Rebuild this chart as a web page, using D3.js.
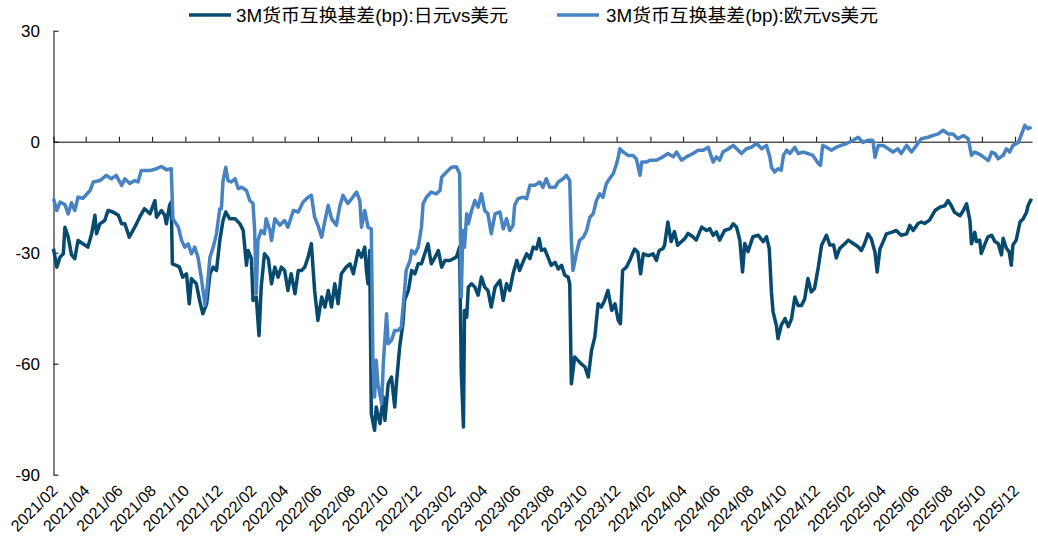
<!DOCTYPE html>
<html><head><meta charset="utf-8">
<script src="https://cdn.jsdelivr.net/npm/d3@7"></script>
<style>
html,body{margin:0;padding:0;background:#fff;}
svg{display:block;}
text{font-family:"Liberation Sans",Arial,"Noto Sans CJK SC",sans-serif;fill:#000;}
</style></head>
<body><svg id="chart" width="1038" height="545"></svg>
<script>
const seriesNames = ["3M货币互换基差(bp):日元vs美元", "3M货币互换基差(bp):欧元vs美元"];
const yTicks = [30, 0, -30, -60, -90];
const xTickLabels = ["2021/02","2021/04","2021/06","2021/08","2021/10","2021/12","2022/02","2022/04","2022/06","2022/08","2022/10","2022/12","2023/02","2023/04","2023/06","2023/08","2023/10","2023/12","2024/02","2024/04","2024/06","2024/08","2024/10","2024/12","2025/02","2025/04","2025/06","2025/08","2025/10","2025/12"];

const jpyDates = ["2021-02-01","2021-02-07","2021-02-13","2021-02-19","2021-02-22","2021-02-28","2021-03-06","2021-03-12","2021-03-18","2021-03-27","2021-04-05","2021-04-12","2021-04-18","2021-04-21","2021-04-27","2021-05-06","2021-05-12","2021-05-21","2021-05-31","2021-06-06","2021-06-12","2021-06-20","2021-06-30","2021-07-09","2021-07-18","2021-07-28","2021-08-06","2021-08-09","2021-08-18","2021-08-24","2021-08-27","2021-09-02","2021-09-05","2021-09-07","2021-09-14","2021-09-20","2021-09-26","2021-10-03","2021-10-08","2021-10-12","2021-10-21","2021-10-27","2021-11-02","2021-11-09","2021-11-15","2021-11-21","2021-11-27","2021-12-03","2021-12-09","2021-12-14","2021-12-21","2021-12-31","2022-01-09","2022-01-15","2022-01-21","2022-01-24","2022-01-30","2022-02-02","2022-02-08","2022-02-13","2022-02-17","2022-02-23","2022-03-02","2022-03-08","2022-03-14","2022-03-20","2022-03-26","2022-04-01","2022-04-07","2022-04-13","2022-04-20","2022-04-26","2022-05-02","2022-05-08","2022-05-14","2022-05-20","2022-05-26","2022-06-01","2022-06-08","2022-06-14","2022-06-20","2022-06-26","2022-07-02","2022-07-08","2022-07-14","2022-07-23","2022-07-30","2022-08-05","2022-08-14","2022-08-20","2022-08-26","2022-08-29","2022-09-01","2022-09-04","2022-09-07","2022-09-13","2022-09-16","2022-09-23","2022-09-29","2022-10-02","2022-10-08","2022-10-14","2022-10-20","2022-10-23","2022-10-29","2022-11-04","2022-11-07","2022-11-14","2022-11-20","2022-11-26","2022-12-02","2022-12-08","2022-12-14","2022-12-20","2022-12-26","2023-01-02","2023-01-08","2023-01-14","2023-01-20","2023-01-29","2023-02-10","2023-02-16","2023-02-19","2023-02-23","2023-02-25","2023-03-01","2023-03-04","2023-03-10","2023-03-16","2023-03-22","2023-03-28","2023-04-03","2023-04-09","2023-04-15","2023-04-22","2023-05-01","2023-05-07","2023-05-13","2023-05-19","2023-05-25","2023-06-01","2023-06-06","2023-06-12","2023-06-19","2023-06-25","2023-07-01","2023-07-07","2023-07-12","2023-07-16","2023-07-22","2023-07-28","2023-08-03","2023-08-10","2023-08-16","2023-08-22","2023-08-28","2023-09-03","2023-09-06","2023-09-09","2023-09-15","2023-09-21","2023-09-27","2023-10-04","2023-10-10","2023-10-16","2023-10-22","2023-10-28","2023-11-03","2023-11-09","2023-11-15","2023-11-22","2023-11-28","2023-12-04","2023-12-08","2023-12-12","2023-12-19","2023-12-25","2024-01-03","2024-01-09","2024-01-14","2024-01-19","2024-01-28","2024-02-06","2024-02-12","2024-02-17","2024-02-24","2024-02-27","2024-03-04","2024-03-10","2024-03-16","2024-03-22","2024-03-29","2024-04-04","2024-04-10","2024-04-19","2024-04-25","2024-05-05","2024-05-14","2024-05-20","2024-05-26","2024-06-01","2024-06-07","2024-06-16","2024-06-26","2024-07-02","2024-07-08","2024-07-14","2024-07-19","2024-07-23","2024-07-29","2024-08-07","2024-08-17","2024-08-26","2024-09-01","2024-09-06","2024-09-10","2024-09-13","2024-09-19","2024-09-22","2024-09-28","2024-10-05","2024-10-11","2024-10-17","2024-10-23","2024-10-29","2024-11-04","2024-11-10","2024-11-16","2024-11-22","2024-11-28","2024-12-05","2024-12-11","2024-12-20","2024-12-26","2025-01-02","2025-01-07","2025-01-13","2025-01-23","2025-01-29","2025-02-07","2025-02-16","2025-02-22","2025-02-28","2025-03-06","2025-03-12","2025-03-19","2025-03-23","2025-03-28","2025-04-03","2025-04-09","2025-04-18","2025-04-27","2025-05-06","2025-05-16","2025-05-22","2025-05-28","2025-06-06","2025-06-12","2025-06-18","2025-06-27","2025-07-07","2025-07-16","2025-07-25","2025-07-31","2025-08-06","2025-08-12","2025-08-22","2025-08-28","2025-09-03","2025-09-09","2025-09-12","2025-09-18","2025-09-21","2025-09-27","2025-09-30","2025-10-06","2025-10-12","2025-10-19","2025-10-25","2025-10-31","2025-11-06","2025-11-09","2025-11-15","2025-11-20","2025-11-24","2025-11-27","2025-12-03","2025-12-10","2025-12-16","2025-12-22","2025-12-25","2025-12-31"];
const jpyValues = [-28.9,-33.9,-31.2,-30.3,-23.1,-25.8,-30.6,-31.6,-26.7,-27.6,-28.5,-24.9,-19.9,-24.9,-22.2,-21.3,-18.6,-19.0,-19.9,-22.2,-22.2,-25.8,-23.1,-20.4,-18.1,-19.5,-15.9,-20.4,-18.6,-19.9,-22.2,-17.2,-16.3,-33.0,-33.4,-33.9,-36.6,-35.7,-43.8,-37.0,-38.4,-42.9,-46.5,-43.8,-35.7,-33.9,-34.8,-26.7,-21.3,-19.0,-20.8,-20.8,-22.2,-24.0,-33.4,-29.4,-31.6,-42.9,-42.0,-52.4,-39.3,-30.3,-31.6,-38.4,-33.9,-36.6,-33.9,-34.8,-40.2,-35.7,-41.1,-34.8,-34.8,-33.9,-31.2,-27.6,-40.2,-48.3,-42.0,-44.7,-40.2,-44.7,-38.4,-43.8,-35.7,-33.9,-33.0,-35.7,-29.4,-31.2,-28.5,-34.8,-38.4,-29.4,-73.5,-78.0,-71.7,-76.2,-69.0,-75.3,-65.4,-63.6,-71.7,-65.4,-55.5,-49.2,-42.9,-40.2,-34.8,-35.7,-33.0,-33.0,-30.3,-27.6,-33.0,-31.2,-29.4,-33.9,-32.1,-32.1,-31.2,-28.5,-61.8,-77.1,-45.6,-47.4,-39.3,-38.4,-39.3,-41.5,-36.6,-39.3,-40.2,-44.7,-39.3,-37.5,-42.9,-38.4,-40.2,-35.7,-32.1,-34.8,-32.6,-30.3,-31.6,-28.5,-29.0,-26.2,-29.4,-29.0,-31.2,-33.4,-32.6,-34.4,-33.4,-36.1,-36.6,-38.4,-65.4,-58.2,-59.1,-60.0,-60.9,-63.6,-56.4,-52.8,-43.8,-44.7,-42.9,-40.2,-45.6,-43.8,-48.3,-49.2,-34.8,-33.9,-32.1,-29.0,-29.9,-35.7,-30.3,-30.8,-30.3,-32.1,-29.4,-28.9,-28.0,-21.7,-27.0,-24.3,-28.0,-27.0,-26.2,-24.8,-25.7,-26.6,-23.1,-24.0,-23.5,-25.3,-24.4,-26.6,-24.0,-23.5,-22.2,-23.1,-26.6,-35.2,-27.5,-29.7,-25.7,-25.3,-27.0,-25.7,-28.9,-40.6,-46.0,-49.6,-53.2,-49.6,-47.8,-50.0,-47.8,-42.0,-44.3,-44.3,-42.5,-37.0,-40.6,-39.7,-33.9,-28.0,-25.3,-27.9,-27.9,-31.4,-28.9,-27.5,-26.6,-27.5,-28.4,-29.4,-27.5,-24.9,-26.2,-29.9,-35.2,-29.0,-27.0,-24.9,-24.5,-24.0,-25.3,-24.9,-22.6,-24.0,-22.1,-21.7,-22.1,-21.2,-18.6,-17.7,-17.3,-15.9,-17.3,-19.1,-20.0,-18.6,-16.8,-21.2,-27.6,-24.5,-27.0,-26.6,-30.2,-27.9,-25.7,-25.3,-27.0,-27.5,-30.6,-26.1,-28.8,-29.7,-33.4,-27.9,-26.6,-21.7,-20.8,-19.0,-17.2,-15.4];

const eurDates = ["2021-02-01","2021-02-07","2021-02-13","2021-02-22","2021-02-28","2021-03-06","2021-03-12","2021-03-18","2021-03-27","2021-04-09","2021-04-15","2021-04-27","2021-05-09","2021-05-18","2021-05-27","2021-06-06","2021-06-12","2021-06-21","2021-06-30","2021-07-06","2021-07-12","2021-07-28","2021-08-09","2021-08-18","2021-08-27","2021-09-05","2021-09-08","2021-09-18","2021-09-24","2021-09-30","2021-10-06","2021-10-12","2021-10-18","2021-10-24","2021-10-30","2021-11-06","2021-11-10","2021-11-15","2021-11-21","2021-11-27","2021-12-03","2021-12-06","2021-12-09","2021-12-14","2021-12-18","2021-12-24","2021-12-31","2022-01-06","2022-01-12","2022-01-21","2022-01-27","2022-02-02","2022-02-05","2022-02-08","2022-02-11","2022-02-17","2022-02-23","2022-02-26","2022-03-05","2022-03-08","2022-03-14","2022-03-23","2022-04-01","2022-04-07","2022-04-17","2022-04-26","2022-05-05","2022-05-14","2022-05-20","2022-05-26","2022-06-01","2022-06-08","2022-06-14","2022-06-20","2022-06-26","2022-07-05","2022-07-11","2022-07-17","2022-07-26","2022-08-02","2022-08-11","2022-08-17","2022-08-20","2022-08-26","2022-09-01","2022-09-07","2022-09-10","2022-09-13","2022-09-16","2022-09-19","2022-09-26","2022-09-29","2022-10-05","2022-10-08","2022-10-14","2022-10-20","2022-10-26","2022-11-01","2022-11-07","2022-11-10","2022-11-17","2022-11-20","2022-11-26","2022-12-02","2022-12-08","2022-12-11","2022-12-17","2022-12-26","2023-01-04","2023-01-11","2023-01-14","2023-01-23","2023-02-01","2023-02-10","2023-02-16","2023-02-19","2023-02-22","2023-02-25","2023-03-01","2023-03-04","2023-03-10","2023-03-16","2023-03-22","2023-03-28","2023-04-03","2023-04-09","2023-04-15","2023-04-22","2023-05-01","2023-05-07","2023-05-13","2023-05-19","2023-05-25","2023-05-28","2023-06-03","2023-06-12","2023-06-19","2023-06-25","2023-07-04","2023-07-13","2023-07-19","2023-07-25","2023-07-31","2023-08-10","2023-08-16","2023-08-25","2023-08-31","2023-09-06","2023-09-09","2023-09-12","2023-09-18","2023-09-24","2023-10-01","2023-10-07","2023-10-13","2023-10-19","2023-10-25","2023-10-31","2023-11-06","2023-11-12","2023-11-18","2023-11-25","2023-12-01","2023-12-04","2023-12-07","2023-12-13","2023-12-22","2023-12-31","2024-01-06","2024-01-13","2024-01-16","2024-01-25","2024-01-31","2024-02-12","2024-02-24","2024-03-04","2024-03-14","2024-03-20","2024-03-29","2024-04-07","2024-04-19","2024-04-29","2024-05-08","2024-05-17","2024-05-26","2024-06-01","2024-06-07","2024-06-13","2024-06-23","2024-07-02","2024-07-11","2024-07-17","2024-07-26","2024-08-04","2024-08-14","2024-08-23","2024-09-01","2024-09-07","2024-09-10","2024-09-16","2024-09-22","2024-09-28","2024-10-02","2024-10-08","2024-10-14","2024-10-23","2024-10-29","2024-11-07","2024-11-16","2024-11-25","2024-12-05","2024-12-09","2024-12-13","2024-12-20","2024-12-29","2025-01-07","2025-01-16","2025-01-26","2025-02-07","2025-02-16","2025-02-25","2025-03-06","2025-03-15","2025-03-19","2025-03-25","2025-04-03","2025-04-12","2025-04-21","2025-04-30","2025-05-06","2025-05-16","2025-05-25","2025-06-03","2025-06-12","2025-06-24","2025-07-04","2025-07-13","2025-07-22","2025-07-31","2025-08-09","2025-08-18","2025-08-28","2025-09-06","2025-09-12","2025-09-18","2025-09-24","2025-09-30","2025-10-13","2025-10-19","2025-10-25","2025-10-31","2025-11-09","2025-11-15","2025-11-21","2025-11-27","2025-12-07","2025-12-13","2025-12-19","2025-12-25","2025-12-31"];
const eurValues = [-15.4,-18.6,-16.3,-17.0,-19.5,-16.5,-18.6,-15.0,-15.3,-13.2,-10.9,-10.5,-9.1,-10.0,-9.1,-11.8,-10.0,-11.3,-10.5,-10.9,-7.8,-7.8,-7.3,-6.7,-7.6,-7.3,-20.8,-23.1,-26.7,-28.5,-27.6,-30.3,-28.5,-31.2,-36.6,-44.2,-39.3,-31.2,-28.5,-24.9,-18.1,-18.1,-10.5,-6.9,-10.5,-10.9,-10.0,-12.7,-12.3,-13.2,-15.9,-16.7,-24.0,-41.1,-26.7,-24.0,-24.9,-20.8,-24.0,-26.7,-20.8,-22.6,-21.3,-23.1,-18.6,-19.0,-16.3,-15.0,-14.5,-20.4,-22.6,-25.8,-21.3,-17.2,-20.8,-22.6,-17.6,-14.5,-16.7,-15.4,-13.6,-16.0,-23.1,-18.6,-23.1,-23.6,-60.0,-69.0,-59.1,-65.4,-70.8,-60.0,-46.5,-54.6,-53.7,-51.0,-51.0,-50.1,-40.2,-34.8,-32.1,-29.4,-30.3,-28.5,-23.1,-16.8,-15.0,-13.6,-14.1,-13.2,-9.6,-8.2,-6.9,-6.8,-8.6,-42.0,-24.0,-28.5,-19.5,-22.2,-18.6,-15.9,-17.7,-14.1,-18.6,-19.5,-24.9,-19.5,-19.0,-23.6,-20.8,-24.0,-22.6,-17.2,-15.4,-15.0,-15.4,-11.8,-11.8,-10.9,-12.3,-10.0,-12.3,-12.3,-10.9,-10.0,-9.1,-10.5,-26.7,-34.8,-30.3,-26.7,-25.8,-24.0,-20.4,-19.5,-15.9,-14.1,-15.0,-11.4,-10.0,-8.6,-5.9,-4.1,-1.9,-2.8,-3.7,-3.7,-4.6,-9.1,-5.5,-5.5,-5.0,-5.0,-4.1,-3.2,-4.1,-2.8,-5.0,-4.1,-3.2,-2.3,-2.3,-1.5,-5.5,-4.1,-5.0,-2.8,-1.9,-1.0,-2.3,-3.2,-1.9,-1.5,-0.5,-1.9,-1.0,-4.1,-6.9,-8.2,-7.3,-7.7,-3.7,-2.3,-3.2,-1.5,-3.2,-2.8,-3.2,-3.7,-5.9,-6.4,-1.0,-1.5,-2.3,-1.5,-1.0,-0.5,0.4,1.2,-0.2,0.4,0.4,-4.2,-1.0,-1.0,-1.9,-2.8,-1.9,-3.2,-1.0,-2.8,-1.0,0.8,1.2,1.7,2.1,3.1,2.1,2.1,0.8,1.7,0.8,-3.7,-2.8,-3.2,-3.7,-5.1,-2.8,-3.2,-4.6,-3.7,-1.9,-2.8,-1.0,-0.2,2.1,4.4,3.5,4.0];

const colors = ["#074a6f", "#4783c3"];

const svg = d3.select("#chart");
const parse = d3.timeParse("%Y-%m-%d");
const parseTick = d3.timeParse("%Y/%m");

const x = d3.scaleTime()
  .domain([parse("2021-02-01"), parse("2026-01-01")])
  .range([53.5, 1032]);
const y = d3.scaleLinear().domain([-90, 30]).range([474.7, 30.7]);

// Y axis
const yAxis = svg.append("g")
  .attr("transform", `translate(${x.range()[0]},0)`)
  .call(d3.axisLeft(y).tickValues(yTicks).tickSize(-5).tickSizeOuter(0).tickPadding(13.5).tickFormat(d => String(d)));
yAxis.selectAll("text").style("font-size", "17px").attr("fill", "#000");
yAxis.selectAll("line,path").attr("stroke", "#000");

// X axis line at zero with upward ticks
const tickDates = xTickLabels.map(parseTick);
const xAxis = svg.append("g")
  .attr("transform", `translate(0,${y(0)})`)
  .call(d3.axisTop(x).tickValues(tickDates).tickSize(5).tickSizeOuter(0).tickFormat(""));
xAxis.selectAll("line,path").attr("stroke", "#000");

// X labels at bottom
svg.append("g").selectAll("text")
  .data(xTickLabels)
  .join("text")
  .attr("transform", d => `translate(${x(parseTick(d)) + 5},${y(-90) + 17}) rotate(-45)`)
  .attr("text-anchor", "end")
  .style("font-size", "16px")
  .text(d => d);

// Lines
const line = d3.line().x(d => x(d.date)).y(d => y(d.value));
const jpy = jpyDates.map((d, i) => ({date: parse(d), value: jpyValues[i]}));
const eur = eurDates.map((d, i) => ({date: parse(d), value: eurValues[i]}));
[jpy, eur].forEach((s, i) => {
  svg.append("path").datum(s)
    .attr("fill", "none")
    .attr("stroke", colors[i])
    .attr("stroke-width", 3.5)
    .attr("stroke-linejoin", "round")
    .attr("d", line);
});

// Legend
const legendItems = [{x: 189, tx: 236}, {x: 557, tx: 606}];
legendItems.forEach((li, i) => {
  svg.append("line").attr("x1", li.x).attr("x2", li.x + 42).attr("y1", 15).attr("y2", 15)
    .attr("stroke", colors[i]).attr("stroke-width", 3.5);
  svg.append("text").attr("x", li.tx).attr("y", 21.5)
    .style("font-size", "18px")
    .attr("textLength", 272).attr("lengthAdjust", "spacingAndGlyphs")
    .text(seriesNames[i]);
});
</script></body></html>
